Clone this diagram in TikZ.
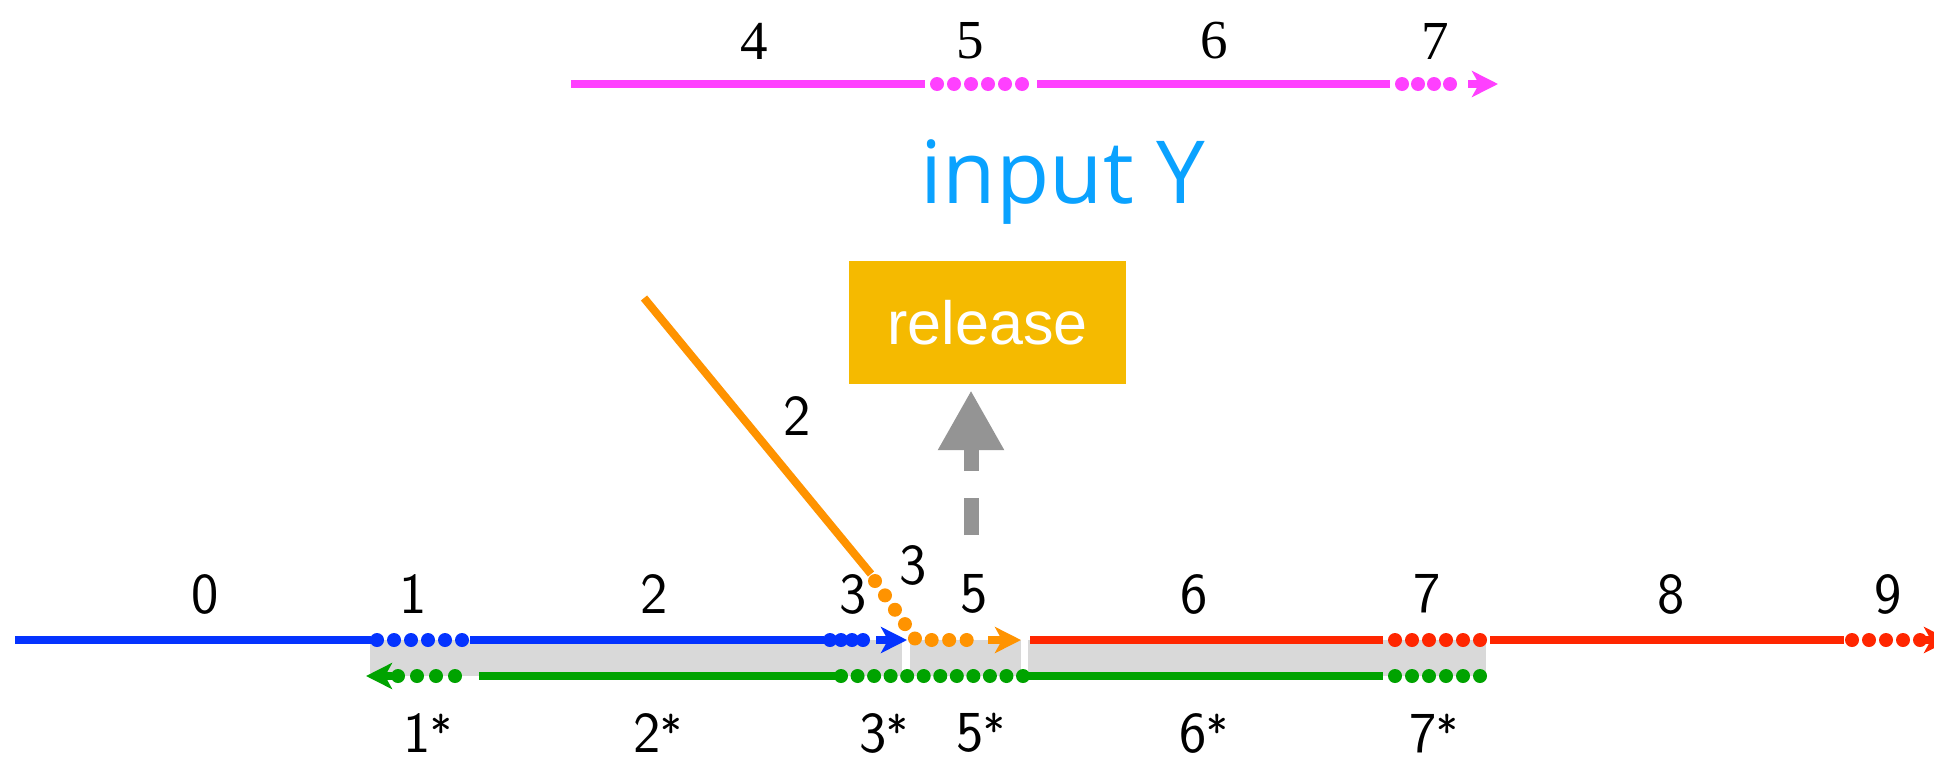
\documentclass[tikz,border=0pt]{standalone}
\usepackage{fontspec}
\newfontfamily\serifnum{Liberation Serif}
\newfontfamily\titlefont{Open Sans}
\newfontfamily\boxfont{Liberation Sans}
\usetikzlibrary{arrows.meta}
\definecolor{cblue}{HTML}{0433FF}
\definecolor{cred}{HTML}{FF2600}
\definecolor{cgreen}{HTML}{00A300}
\definecolor{corange}{HTML}{FF9300}
\definecolor{cmag}{HTML}{FF40FF}
\definecolor{cband}{HTML}{D9D9D9}
\definecolor{ctitle}{HTML}{0AA2FF}
\definecolor{cgold}{HTML}{F5BA00}
\definecolor{cgrey}{HTML}{949494}
% starred index: a smaller, raised asterisk
\newcommand{\stidx}[1]{#1\raisebox{4pt}{\fontsize{46}{46}\selectfont*}}
\begin{document}
\begin{tikzpicture}[x=1pt,y=-1pt,
  seg/.style={line width=8pt},
  dotrun/.style={line width=14pt, line cap=round, dash pattern=on 0pt off #1},
  dotrun/.default=17pt,
  arrowend/.style={line width=8pt, -{Stealth[length=26pt,width=26pt,inset=7pt]}},
  botlbl/.style={inner sep=0pt, font=\sffamily\fontsize{58}{60}\selectfont},
  toplbl/.style={inner sep=0pt, font=\sffamily\fontsize{58}{60}\selectfont},
  seriflbl/.style={inner sep=0pt, font=\serifnum\fontsize{55}{60}\selectfont},
]
\useasboundingbox (0,0) rectangle (1934,761);
\fill[white] (0,0) rectangle (1934,761);

% shaded band between the two lower tracks
\fill[cband] (370,640) rectangle (902,676);
\fill[cband] (910,640) rectangle (1021,676);
\fill[cband] (1028,640) rectangle (1486,676);

% ---- upper track (magenta) ----
\coordinate (m0) at (571,84);  \coordinate (m1) at (925,84);
\coordinate (m2) at (937,84);  \coordinate (m3) at (1022,84);
\coordinate (m4) at (1037,84); \coordinate (m5) at (1390,84);
\coordinate (m6) at (1402,84); \coordinate (m7) at (1466,84);
\coordinate (m8) at (1468,84); \coordinate (m9) at (1498,84);
\draw[cmag, seg] (m0) -- (m1);
\draw[cmag, dotrun] (m2) -- (m3);
\draw[cmag, seg] (m4) -- (m5);
\draw[cmag, dotrun=16pt] (m6) -- (m7);
\draw[cmag, arrowend] (m8) -- (m9);

% ---- main track: blue then red ----
\coordinate (b0) at (15,640);  \coordinate (b1) at (371,640);
\coordinate (b2) at (377,640); \coordinate (b3) at (462,640);
\coordinate (b4) at (470,640); \coordinate (b5) at (824,640);
\coordinate (b6) at (830,640); \coordinate (b7) at (874,640);
\coordinate (b8) at (876,640); \coordinate (b9) at (907,640);
\draw[cblue, seg] (b0) -- (b1);
\draw[cblue, dotrun] (b2) -- (b3);
\draw[cblue, seg] (b4) -- (b5);
\draw[cblue, dotrun=11pt] (b6) -- (b7);
\draw[cblue, arrowend] (b8) -- (b9);

\coordinate (r0) at (1030,640); \coordinate (r1) at (1383,640);
\coordinate (r2) at (1395,640); \coordinate (r3) at (1480,640);
\coordinate (r4) at (1490,640); \coordinate (r5) at (1844,640);
\coordinate (r6) at (1852,640); \coordinate (r7) at (1920,640);
\coordinate (r8) at (1922,640); \coordinate (r9) at (1950,640);
\draw[cred, seg] (r0) -- (r1);
\draw[cred, dotrun] (r2) -- (r3);
\draw[cred, seg] (r4) -- (r5);
\draw[cred, dotrun] (r6) -- (r7);
\draw[cred, arrowend] (r8) -- (r9);

% ---- return track (green, leftwards) ----
\coordinate (g0) at (366,676);  \coordinate (g1) at (392,676);
\coordinate (g2) at (398,676);  \coordinate (g3) at (474,676);
\coordinate (g4) at (479,676);  \coordinate (g5) at (837,676);
\coordinate (g6) at (841,676);  \coordinate (g7) at (1023,676);
\coordinate (g8) at (1029,676); \coordinate (g9) at (1383,676);
\coordinate (g10) at (1395,676); \coordinate (g11) at (1480,676);
\draw[cgreen, arrowend] (g1) -- (g0);
\draw[cgreen, dotrun=19pt] (g2) -- (g3);
\draw[cgreen, seg] (g4) -- (g5);
\draw[cgreen, dotrun=16.545pt] (g6) -- (g7);
\draw[cgreen, seg] (g8) -- (g9);
\draw[cgreen, dotrun] (g10) -- (g11);

% ---- joining track (orange) ----
\coordinate (o0) at (644,298); \coordinate (o1) at (871,574);
\coordinate (o2) at (875,581); \coordinate (o3) at (916,640);
\coordinate (o4) at (984,640); \coordinate (o5) at (988,640);
\coordinate (o6) at (1021,640);
\draw[corange, seg] (o0) -- (o1);
\draw[corange, dotrun=17.5pt] (o2) -- (o3) -- (o4);
\draw[corange, arrowend] (o5) -- (o6);

% ---- release box and its trigger ----
\node[fill=cgold, minimum width=277pt, minimum height=123pt, inner sep=0pt,
      text=white, font=\boxfont\fontsize{61}{61}\selectfont] (rel) at (987.5,322.5) {release};
\coordinate (trig) at (971,535);
\draw[cgrey, line width=15pt, dash pattern=on 37pt off 27pt on 80pt,
      -{Triangle[length=60pt,width=62pt]}] (trig) -- ([xshift=-16.5pt,yshift=-6pt]rel.south);

\node[text=ctitle, font=\titlefont\fontsize{87}{90}\selectfont] (title) at (1063,182) {input Y};

% ---- labels ----
\node[seriflbl] (t4) at (754,41) {4};
\node[seriflbl] (t5) at (970,41) {5};
\node[seriflbl] (t6) at (1214,41) {6};
\node[seriflbl] (t7) at (1435,41) {7};

\node[toplbl] (l0) at (205,594) {0};
\node[toplbl] (l1) at (413,594) {1};
\node[toplbl] (l2) at (654,594) {2};
\node[toplbl] (l3) at (853,594) {3};
\node[toplbl] (l5) at (974,594) {5};
\node[toplbl] (l6) at (1194,594) {6};
\node[toplbl] (l7) at (1427,594) {7};
\node[toplbl] (l8) at (1671,594) {8};
\node[toplbl] (l9) at (1888,594) {9};
\node[toplbl] (lo3) at (913,565) {3};
\node[toplbl] (lo2) at (797,416) {2};

\node[botlbl] (s1) at (428,733) {\stidx{1}};
\node[botlbl] (s2) at (658,733) {\stidx{2}};
\node[botlbl] (s3) at (884,733) {\stidx{3}};
\node[botlbl] (s5) at (981,733) {\stidx{5}};
\node[botlbl] (s6) at (1204,733) {\stidx{6}};
\node[botlbl] (s7) at (1434,733) {\stidx{7}};
\end{tikzpicture}
\end{document}
